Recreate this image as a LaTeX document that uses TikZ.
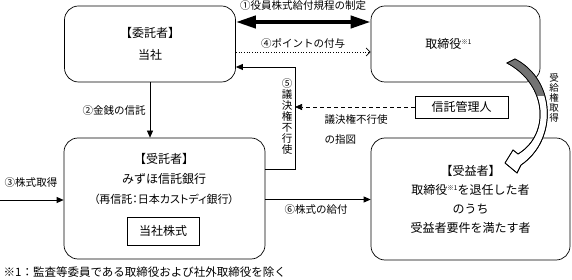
\documentclass[tikz,border=0pt]{standalone}
\usepackage{fontspec}
\setmainfont{Noto Sans CJK JP}
\newfontfamily\cjkprop[RawFeature=+palt]{Noto Sans CJK JP}
\usetikzlibrary{arrows.meta}

\begin{document}
\begin{tikzpicture}[
    x=1pt, y=-1pt,
    line width=0.7pt,
    box/.style={draw, rounded corners=14pt, align=center, font=\fontsize{12}{19}\selectfont},
    plainbox/.style={draw, font=\fontsize{12}{14}\selectfont},
    lbl/.style={font=\fontsize{10.5}{12}\selectfont},
    vlbl/.style={align=center, font=\fontsize{10.5}{11}\selectfont},
    arr/.style={-{Triangle[length=7pt,width=6pt]}}
]
\useasboundingbox (0,0) rectangle (572,280);

% boxes
\node[box, minimum width=171pt, minimum height=76pt] (trustor) at (150,44) {【委託者】\\[3pt]当社};
\node[box, minimum width=169pt, minimum height=76pt] (director) at (455.5,44)
    {取締役\raisebox{4pt}{\fontsize{6.5}{7}\selectfont ※1}\hspace*{14pt}};
\node[box, minimum width=201pt, minimum height=121pt] (trustee) at (164.5,198.5) {};
\node[align=center, font=\fontsize{12}{20}\selectfont] (trusteetext) at (164,179)
    {【受託者】\\みずほ信託銀行\\{\cjkprop\fontsize{11}{20}\selectfont （再信託：日本カストディ銀行）}};
\node[plainbox, minimum width=72pt, minimum height=28pt] (shares) at (163,231) {当社株式};
\node[box, minimum width=199pt, minimum height=122pt] (beneficiary) at (470.5,199)
    {【受益者】\\取締役\raisebox{4pt}{\fontsize{6.5}{7}\selectfont ※1}を退任した者\\のうち\\受益者要件を満たす者};
\node[plainbox, minimum width=93pt, minimum height=22pt] (admin) at (461.5,107) {信託管理人};

% ① / ④
\draw[line width=4pt, {Triangle[length=20pt,width=12pt]}-{Triangle[length=20pt,width=12pt]}]
    ([yshift=22pt]trustor.east) -- ([yshift=22pt]trustor.east -| director.west);
\node[lbl] (rule) at (303,6) {①役員株式給付規程の制定};
\draw[dotted, -{Straight Barb[length=4pt,width=8pt]}]
    ([yshift=-8pt]trustor.east) -- ([yshift=-8pt]trustor.east -| director.west);
\node[lbl] (points) at (303,43) {④ポイントの付与};

% ② / ③
\draw[arr] (trustor.south) -- (trustor.south |- trustee.north);
\node[lbl] (money) at (114,111) {②金銭の信託};
\coordinate (market) at (0,200);
\draw[arr] (market) -- (market -| trustee.west);
\node[lbl] (buy) at (31,183) {③株式取得};

% ⑤ and the instruction
\coordinate (vote) at (295,67);
\draw[arr] ([yshift=29.5pt]trustee.east) -| (vote) -- (vote -| trustor.east);
\node[vlbl] (waiver) at (287,117) {⑤\\議\\決\\権\\不\\行\\使};
\draw[arr, dash pattern=on 4pt off 3pt] (admin.west) -- (admin.west -| vote);
\node[lbl, anchor=west] (instr) at (321,120) {議決権不行使};
\node[lbl, anchor=west] (instrb) at (321,140) {の指図};

% ⑥
\draw[arr] ([yshift=-1pt]trustee.east) -- ([yshift=-1pt]trustee.east -| beneficiary.west);
\node[lbl] (deliver) at (316,210) {⑥株式の給付};

% bent arrow, grey at the top
\draw[fill=white] (507,63) .. controls (548,85) and (550,135) .. (518,154) -- (513,150) -- (505,163)
    -- (517,173) -- (521,165) .. controls (558,140) and (556,80) .. (515,59) -- cycle;
\begin{scope}
\clip (495,50) rectangle (570,96);
\fill[black!55] (507,63) .. controls (548,85) and (550,135) .. (518,154) -- (513,150) -- (505,163)
    -- (517,173) -- (521,165) .. controls (558,140) and (556,80) .. (515,59) -- cycle;
\end{scope}
\draw (507,63) .. controls (548,85) and (550,135) .. (518,154) -- (513,150) -- (505,163)
    -- (517,173) -- (521,165) .. controls (558,140) and (556,80) .. (515,59) -- cycle;
\node[align=center, font=\fontsize{9.5}{10}\selectfont] (grant) at (554,98) {受\\給\\権\\取\\得};

\node[anchor=west, font=\fontsize{11.5}{12}\selectfont] (note) at (0,272) {※1：監査等委員である取締役および社外取締役を除く};
\end{tikzpicture}
\end{document}
